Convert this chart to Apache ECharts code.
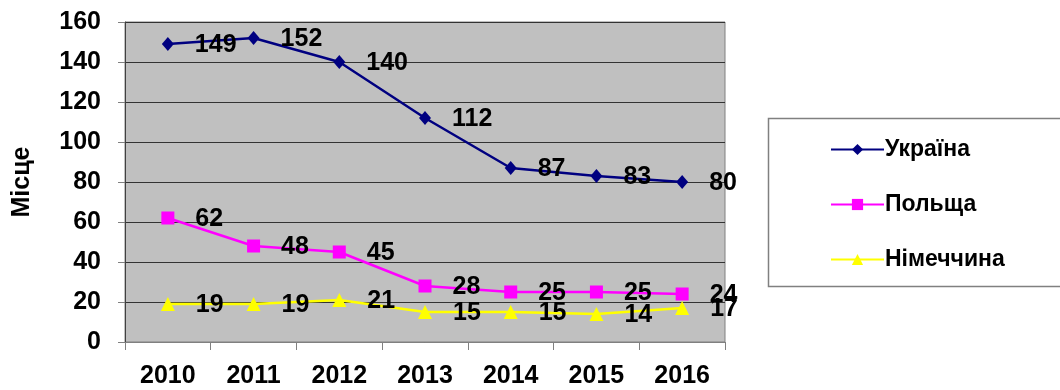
<!DOCTYPE html>
<html>
<head>
<meta charset="utf-8">
<script src="https://cdn.jsdelivr.net/npm/echarts@6/dist/echarts.min.js"></script>
<style>
  html, body { margin: 0; padding: 0; background: #fff; }
  #chart { width: 1060px; height: 390px; }
</style>
</head>
<body>
<div id="chart"></div>
<script>
// Ranking positions by year
const years = ['2010', '2011', '2012', '2013', '2014', '2015', '2016'];
const ukraine = [149, 152, 140, 112, 87, 83, 80];
const poland = [62, 48, 45, 28, 25, 25, 24];
const germany = [19, 19, 21, 15, 15, 14, 17];
const yTicks = [0, 20, 40, 60, 80, 100, 120, 140, 160];

const FONT = '"Liberation Sans", Arial, sans-serif';

const labelStyle = {
  show: true,
  position: 'right',
  distance: 21,
  offset: [0, 1],
  color: '#000',
  fontSize: 25,
  fontWeight: 'bold',
  fontFamily: FONT
};

function makeSeries(name, data, color, symbol, size) {
  return {
    name: name,
    type: 'line',
    data: data,
    symbol: symbol,
    symbolSize: size,
    showAllSymbol: true,
    lineStyle: { color: color, width: 2.5 },
    itemStyle: { color: color },
    label: labelStyle,
    z: 3
  };
}

const chart = echarts.init(document.getElementById('chart'));
chart.setOption({
  animation: false,
  backgroundColor: '#ffffff',
  grid: {
    left: 125, top: 22, width: 600, height: 320,
    show: true, backgroundColor: '#c0c0c0', borderColor: '#808080', borderWidth: 1
  },
  graphic: [{
    type: 'rect',
    shape: { x: 768.5, y: 118.5, width: 300, height: 168 },
    style: { fill: '#fff', stroke: '#808080', lineWidth: 1.5 },
    z: -1
  }],
  legend: {
    orient: 'vertical',
    left: 825,
    top: 133,
    itemGap: 32,
    itemWidth: 53,
    itemHeight: 14,
    textStyle: { color: '#000', fontSize: 23, fontWeight: 'bold', fontFamily: FONT, padding: [0, 0, 0, -4] },
    data: ['Україна', 'Польща', 'Німеччина']
  },
  xAxis: {
    type: 'category',
    data: years,
    boundaryGap: true,
    axisLine: { show: true, lineStyle: { color: '#808080', width: 1 } },
    axisTick: { show: true, length: 8, lineStyle: { color: '#808080' } },
    axisLabel: { color: '#000', fontSize: 25, fontWeight: 'bold', fontFamily: FONT, margin: 22 },
    splitLine: { show: false }
  },
  yAxis: {
    type: 'value',
    min: yTicks[0],
    max: yTicks[yTicks.length - 1],
    interval: 20,
    name: 'Місце',
    nameLocation: 'middle',
    nameGap: 90,
    nameRotate: 90,
    nameTextStyle: { color: '#000', fontSize: 25, fontWeight: 'bold', fontFamily: FONT },
    axisLine: { show: true, lineStyle: { color: '#404040', width: 1 } },
    axisTick: { show: true, length: 7, lineStyle: { color: '#808080' } },
    axisLabel: { color: '#000', fontSize: 25, fontWeight: 'bold', fontFamily: FONT, margin: 24 },
    splitLine: { show: true, lineStyle: { color: '#333333', width: 1 } }
  },
  series: [
    makeSeries('Україна', ukraine, '#000080', 'diamond', [12, 14]),
    makeSeries('Польща', poland, '#ff00ff', 'rect', 13),
    makeSeries('Німеччина', germany, '#ffff00', 'triangle', 14)
  ]
});
</script>
</body>
</html>
